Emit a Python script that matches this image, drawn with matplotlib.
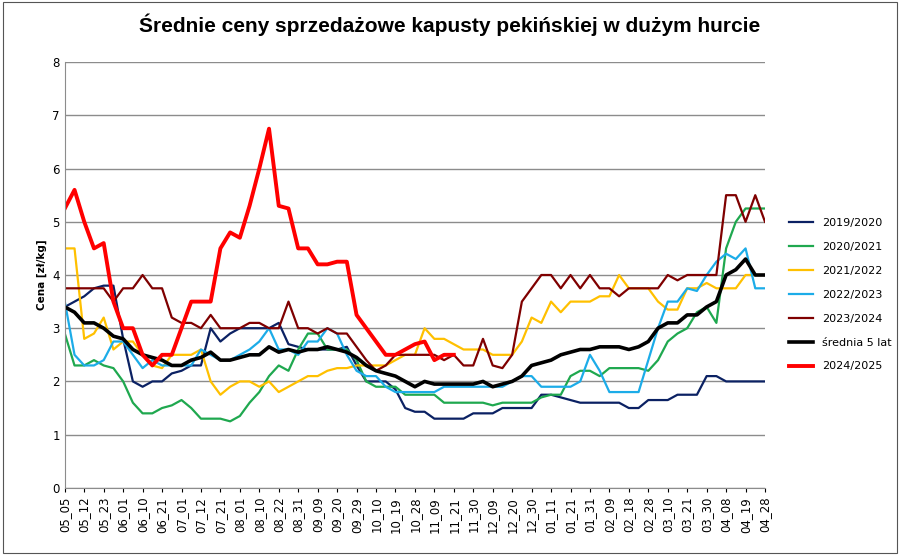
import numpy as np
import matplotlib
matplotlib.use('Agg')
import matplotlib.pyplot as plt

nan = np.nan

# etykiety osi X (co druga pozycja)
tick_labels = ["05_05", "05_12", "05_23", "06_01", "06_10", "06_21", "07_01", "07_12", "07_21",
               "08_01", "08_10", "08_22", "08_31", "09_09", "09_20", "09_29", "10_10", "10_19",
               "10_28", "11_09", "11_21", "11_30", "12_09", "12_20", "12_30", "01_11", "01_21",
               "01_31", "02_09", "02_18", "02_28", "03_10", "03_21", "03_30", "04_08", "04_19", "04_28"]

s2019 = [3.4, 3.5, 3.6, 3.75, 3.8, 3.8, 2.8, 2.0, 1.9, 2.0, 2.0, 2.15, 2.2, 2.3, 2.3, 3.0, 2.75, 2.9,
         3.0, 3.0, 3.0, 3.0, 3.1, 2.7, 2.65, 2.6, 2.6, 2.6, 2.6, 2.65, 2.3, 2.0, 2.0, 2.0, 1.85, 1.5,
         1.43, 1.43, 1.3, 1.3, 1.3, 1.3, 1.4, 1.4, 1.4, 1.5, 1.5, 1.5, 1.5, 1.75, 1.75, 1.7, 1.65, 1.6,
         1.6, 1.6, 1.6, 1.6, 1.5, 1.5, 1.65, 1.65, 1.65, 1.75, 1.75, 1.75, 2.1, 2.1, 2.0, 2.0, 2.0, 2.0, 2.0]
s2020 = [2.9, 2.3, 2.3, 2.4, 2.3, 2.25, 2.0, 1.6, 1.4, 1.4, 1.5, 1.55, 1.65, 1.5, 1.3, 1.3, 1.3, 1.25,
         1.35, 1.6, 1.8, 2.1, 2.3, 2.2, 2.6, 2.9, 2.9, 2.6, 2.6, 2.6, 2.4, 2.0, 1.9, 1.9, 1.9, 1.75,
         1.75, 1.75, 1.75, 1.6, 1.6, 1.6, 1.6, 1.6, 1.55, 1.6, 1.6, 1.6, 1.6, 1.7, 1.75, 1.75, 2.1, 2.2,
         2.2, 2.1, 2.25, 2.25, 2.25, 2.25, 2.2, 2.4, 2.75, 2.9, 3.0, 3.3, 3.4, 3.1, 4.5, 5.0, 5.25, 5.25, 5.25]
s2021 = [4.5, 4.5, 2.8, 2.9, 3.2, 2.6, 2.75, 2.75, 2.5, 2.3, 2.25, 2.5, 2.5, 2.5, 2.6, 2.0, 1.75, 1.9,
         2.0, 2.0, 1.9, 2.0, 1.8, 1.9, 2.0, 2.1, 2.1, 2.2, 2.25, 2.25, 2.3, 2.3, 2.3, 2.3, 2.4, 2.5,
         2.5, 3.0, 2.8, 2.8, 2.7, 2.6, 2.6, 2.6, 2.5, 2.5, 2.5, 2.75, 3.2, 3.1, 3.5, 3.3, 3.5, 3.5,
         3.5, 3.6, 3.6, 4.0, 3.75, 3.75, 3.75, 3.5, 3.35, 3.35, 3.75, 3.75, 3.85, 3.75, 3.75, 3.75, 4.0, 4.0, 4.0]
s2022 = [3.5, 2.5, 2.3, 2.3, 2.4, 2.75, 2.75, 2.5, 2.25, 2.4, 2.3, 2.3, 2.3, 2.3, 2.6, 2.5, 2.4, 2.4,
         2.5, 2.6, 2.75, 3.0, 2.6, 2.6, 2.5, 2.75, 2.75, 3.0, 2.9, 2.5, 2.2, 2.1, 2.1, 1.9, 1.8, 1.8,
         1.8, 1.8, 1.8, 1.9, 1.9, 1.9, 1.9, 1.9, 1.9, 1.9, 2.0, 2.1, 2.1, 1.9, 1.9, 1.9, 1.9, 2.0,
         2.5, 2.2, 1.8, 1.8, 1.8, 1.8, 2.4, 3.0, 3.5, 3.5, 3.75, 3.7, 4.0, 4.25, 4.4, 4.3, 4.5, 3.75, 3.75]
s2023 = [3.75, 3.75, 3.75, 3.75, 3.75, 3.5, 3.75, 3.75, 4.0, 3.75, 3.75, 3.2, 3.1, 3.1, 3.0, 3.25, 3.0, 3.0,
         3.0, 3.1, 3.1, 3.0, 3.0, 3.5, 3.0, 3.0, 2.9, 3.0, 2.9, 2.9, 2.65, 2.4, 2.2, 2.3, 2.5, 2.5,
         2.5, 2.5, 2.5, 2.4, 2.5, 2.3, 2.3, 2.8, 2.3, 2.25, 2.5, 3.5, 3.75, 4.0, 4.0, 3.75, 4.0, 3.75,
         4.0, 3.75, 3.75, 3.6, 3.75, 3.75, 3.75, 3.75, 4.0, 3.9, 4.0, 4.0, 4.0, 4.0, 5.5, 5.5, 5.0, 5.5, 5.0]
avg5 = [3.4, 3.3, 3.1, 3.1, 3.0, 2.85, 2.8, 2.6, 2.5, 2.45, 2.4, 2.3, 2.3, 2.4, 2.45, 2.55, 2.4, 2.4,
        2.45, 2.5, 2.5, 2.65, 2.55, 2.6, 2.55, 2.6, 2.6, 2.65, 2.6, 2.55, 2.45, 2.3, 2.2, 2.15, 2.1, 2.0,
        1.9, 2.0, 1.95, 1.95, 1.95, 1.95, 1.95, 2.0, 1.9, 1.95, 2.0, 2.1, 2.3, 2.35, 2.4, 2.5, 2.55, 2.6,
        2.6, 2.65, 2.65, 2.65, 2.6, 2.65, 2.75, 3.0, 3.1, 3.1, 3.25, 3.25, 3.4, 3.5, 4.0, 4.1, 4.3, 4.0, 4.0]
s2024 = [5.25, 5.6, 5.0, 4.5, 4.6, 3.5, 3.0, 3.0, 2.5, 2.3, 2.5, 2.5, 3.0, 3.5, 3.5, 3.5, 4.5, 4.8,
         4.7, 5.3, 6.0, 6.75, 5.3, 5.25, 4.5, 4.5, 4.2, 4.2, 4.25, 4.25, 3.25, 3.0, 2.75, 2.5, 2.5, 2.6,
         2.7, 2.75, 2.4, 2.5, 2.5] + [nan] * 32

series = [
    ("2019/2020", s2019, "#0b2163", 1.6),
    ("2020/2021", s2020, "#1fa84f", 1.6),
    ("2021/2022", s2021, "#ffc000", 1.6),
    ("2022/2023", s2022, "#1cace8", 1.6),
    ("2023/2024", s2023, "#7f0000", 1.6),
    ("średnia 5 lat", avg5, "#000000", 2.6),
    ("2024/2025", s2024, "#ff0000", 2.8),
]

fig = plt.figure(figsize=(9, 5.55), dpi=100)
ax = fig.add_axes([0.072, 0.121, 0.778, 0.767])
x = np.arange(len(s2019))
for name, vals, col, lw in series:
    ax.plot(x, vals, color=col, lw=lw, label=name)

ax.set_xlim(0, len(x) - 1)
ax.set_ylim(0, 8)
ax.set_yticks(range(0, 9))
ax.set_xticks(np.arange(0, len(x), 2))
ax.set_xticklabels(tick_labels, rotation=90, fontsize=8.5)
ax.tick_params(axis='y', labelsize=8.5, length=0)
ax.tick_params(axis='x', length=3)
ax.grid(axis='y', color='#8c8c8c', lw=1)
ax.set_axisbelow(True)
for sp in ['top', 'right']:
    ax.spines[sp].set_visible(False)
ax.spines['left'].set_color('#8c8c8c')
ax.spines['bottom'].set_color('#8c8c8c')
ax.set_ylabel("Cena [zł/kg]", fontsize=7.5, fontweight='bold')

fig.suptitle("Średnie ceny sprzedażowe kapusty pekińskiej w dużym hurcie",
             x=0.5, y=0.975, fontsize=15, fontweight='bold', family='Liberation Sans')
fig.legend(loc='upper left', bbox_to_anchor=(0.865, 0.625), frameon=False,
           fontsize=8, labelspacing=1.25, handlelength=2.2)
fig.add_artist(plt.Rectangle((0.003, 0.003), 0.994, 0.994, transform=fig.transFigure,
                             fill=False, edgecolor='#555555', lw=0.8))
fig.savefig("out.png", dpi=100)
